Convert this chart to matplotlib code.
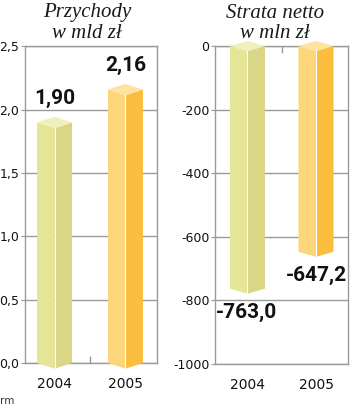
import matplotlib
matplotlib.use("Agg")
import matplotlib.pyplot as plt
from matplotlib.ticker import FixedLocator

years = ["2004", "2005"]
revenue = [1.90, 2.16]          # mld zł
net_loss = [-763.0, -647.2]     # mln zł
revenue_labels = ["1,90", "2,16"]
loss_labels = ["-763,0", "-647,2"]
revenue_ticks = [0.0, 0.5, 1.0, 1.5, 2.0, 2.5]
revenue_ticklabels = ["0,0", "0,5", "1,0", "1,5", "2,0", "2,5"]
loss_ticks = [-1000, -800, -600, -400, -200, 0]
loss_ticklabels = ["-1000", "-800", "-600", "-400", "-200", "0"]

# face colours per year: (left face, right face, top face)
faces = [("#e5e596", "#d9d685", "#f0f0bc"),
         ("#fdd57a", "#fbbd3e", "#fee3a0")]
grid_c = "#9a9a9a"

W, H = 350, 408
fig = plt.figure(figsize=(W / 100, H / 100), dpi=100)
fig.patch.set_facecolor("white")


def prism(ax, c, hw, top, bottom, d, cols, top_cap=True):
    """Draw a bar as a two-faced prism with a pointed bottom."""
    left, right, topf = cols
    ax.fill([c - hw, c, c, c - hw], [top, top - d, bottom - d, bottom],
            color=left, lw=0, zorder=3, clip_on=False)
    ax.fill([c, c + hw, c + hw, c], [top - d, top, bottom, bottom - d],
            color=right, lw=0, zorder=3, clip_on=False)
    ax.plot([c, c], [top - d, bottom - d], color="white", lw=0.8,
            zorder=4, clip_on=False)
    if top_cap:
        ax.fill([c - hw, c, c + hw, c], [top, top + d, top, top - d],
                color=topf, lw=0, zorder=3, clip_on=False)


def style(ax, ticks, ticklabels, ylim, xlim):
    ax.set_xlim(*xlim)
    ax.set_ylim(*ylim)
    ax.set_yticks(ticks)
    ax.set_yticklabels(ticklabels, fontsize=9, color="#111111")
    ax.yaxis.grid(True, color=grid_c, lw=1.0, zorder=0)
    ax.set_axisbelow(True)
    for s in ax.spines.values():
        s.set_color(grid_c)
        s.set_linewidth(1.0)
    ax.tick_params(axis="y", length=3, color=grid_c, pad=1)
    ax.set_xticks([0, 1])
    ax.set_xticklabels(years, fontsize=10, color="#111111")
    ax.tick_params(axis="x", length=0, pad=10)


# ---- revenue panel
ax1 = fig.add_axes([25 / W, 1 - 363 / H, 132 / W, 316.5 / H])
style(ax1, revenue_ticks, revenue_ticklabels, (0, 2.5), (-0.416, 1.444))
d1 = 0.045
for i, v in enumerate(revenue):
    prism(ax1, i, 0.246, v, 0.0, d1, faces[i])
    ax1.text(i, v + 0.19, revenue_labels[i], ha="center", va="center",
             fontsize=15, fontweight="bold", family="Roboto",
             color="#111111", zorder=5)
ax1.xaxis.set_minor_locator(FixedLocator([0.5]))
ax1.tick_params(axis="x", which="minor", direction="in", length=5,
                color=grid_c, width=1)

# ---- net loss panel
ax2 = fig.add_axes([215 / W, 1 - 364 / H, 133 / W, 318 / H])
style(ax2, loss_ticks, loss_ticklabels, (-1000, 0), (-0.474, 1.467))
d2 = 16
for i, v in enumerate(net_loss):
    prism(ax2, i, 0.255, 0.0, v, d2, faces[i])
lbl_x = [-0.02, 1.0]
for i, v in enumerate(net_loss):
    ax2.text(lbl_x[i], v - 75, loss_labels[i], ha="center", va="center",
             fontsize=15, fontweight="bold", family="Roboto",
             color="#111111", zorder=5)
ax2.xaxis.set_minor_locator(FixedLocator([0.5]))
ax2.tick_params(axis="x", which="minor", top=True, bottom=False,
                direction="in", length=5, color=grid_c, width=1)

# ---- titles
tkw = dict(ha="center", va="center", fontsize=15, style="italic",
           family="Liberation Serif", color="#1a1a1a")
fig.text(87 / W, 1 - 13 / H, "Przychody", **tkw)
fig.text(87 / W, 1 - 33 / H, "w mld zł", **tkw)
fig.text(275 / W, 1 - 13 / H, "Strata netto", **tkw)
fig.text(275 / W, 1 - 33 / H, "w mln zł", **tkw)

fig.text(0 / W, 1 - 401 / H, "rm", fontsize=7.5, color="#333333",
         ha="left", va="center")

fig.savefig("out.png", dpi=100, facecolor="white")
